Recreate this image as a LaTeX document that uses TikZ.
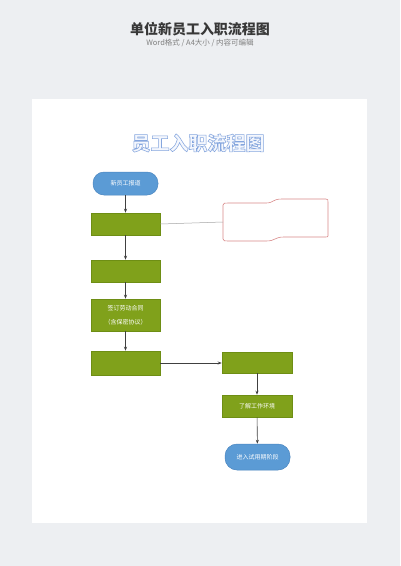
\documentclass[tikz,border=0pt]{standalone}
\usepackage{fontspec}
\setmainfont{Noto Sans CJK SC}
\usetikzlibrary{arrows.meta}
\definecolor{bgc}{HTML}{EDEFF2}
\definecolor{grn}{HTML}{80A11B}
\definecolor{grnb}{HTML}{6E8E14}
\definecolor{blu}{HTML}{5B9BD5}
\definecolor{blub}{HTML}{4A86C0}
\definecolor{arr}{HTML}{404040}
\definecolor{wav}{HTML}{D98A8A}
\definecolor{ttlfill}{HTML}{F4F7FD}
\newcommand{\outlinetext}[1]{\special{pdf:code 2 Tr 0.55 w 0.52 0.65 0.87 RG}#1\special{pdf:code 0 Tr}}
\tikzset{
  gbox/.style={draw=grnb, fill=grn, line width=0.5pt, minimum width=69pt, minimum height=22pt, inner sep=0pt, text=white, font=\fontsize{6}{14}\selectfont, align=center},
  rbox/.style={draw=blub, fill=blu, line width=0.5pt, minimum width=65pt, minimum height=23pt, inner sep=0pt, rounded corners=11pt, text=white, font=\fontsize{6}{8}\selectfont},
  flow/.style={draw=arr, line width=0.6pt, -{Stealth[length=4pt,width=3pt]}},
}
\begin{document}
\begin{tikzpicture}[x=1pt,y=-1pt]
\useasboundingbox (0,0) rectangle (400,566);
\fill[bgc] (0,0) rectangle (400,566);
\fill[white] (32,99) rectangle (367,523);
\node[font=\fontsize{14}{16}\selectfont\bfseries, text=black!78] (hdr) at (200,29) {单位新员工入职流程图};
\node[font=\fontsize{7.5}{9}\selectfont, text=black!50] (sub) at (200,42.5) {Word格式 / A4大小 / 内容可编辑};
\node[font=\fontsize{19}{21}\selectfont\bfseries, text=ttlfill] (ttl) at (198,143) {\outlinetext{员工入职流程图}};
\node[rbox] (n1) at (125.5,183.5) {新员工报道};
\node[gbox] (b2) at (125.5,224) {};
\node[gbox] (b3) at (125.5,271) {};
\node[gbox, minimum height=32pt] (b4) at (125.5,315) {签订劳动合同\\（含保密协议）};
\node[gbox, minimum height=24pt] (b5) at (125.5,363) {};
\node[gbox, minimum width=70pt, minimum height=21pt] (b6) at (257,362.5) {};
\node[gbox, minimum width=70pt] (b7) at (257,406) {了解工作环境};
\node[rbox, minimum height=26pt, rounded corners=12pt] (n8) at (257.5,457) {进入试用期阶段};
% wave document shape
\draw[wav, line width=0.6pt] (223,205) .. controls (223,203) and (225,203) .. (228,203)
  -- (266,203) .. controls (274,203) and (272,199) .. (282,199)
  -- (326,199) .. controls (328,199) and (328,200) .. (328,202)
  -- (328,236) .. controls (328,237) and (327,237) .. (325,237)
  -- (284,237) .. controls (274,237) and (276,241) .. (266,241)
  -- (228,241) .. controls (225,241) and (223,241) .. (223,239) -- cycle;
\coordinate (w) at (223,222);
\draw[black!35, line width=0.5pt] (b2.east) -- (w);
\draw[flow] (n1) -- (b2);
\draw[flow] (b2) -- (b3);
\draw[flow] (b3) -- (b4);
\draw[flow] (b4) -- (b5);
\draw[flow] (b5.east) -- (b6.west |- b5.east);
\draw[flow] (b6.south -| 257,0) -- (b7);
\draw[flow] (b7) -- (n8);
\end{tikzpicture}
\end{document}
